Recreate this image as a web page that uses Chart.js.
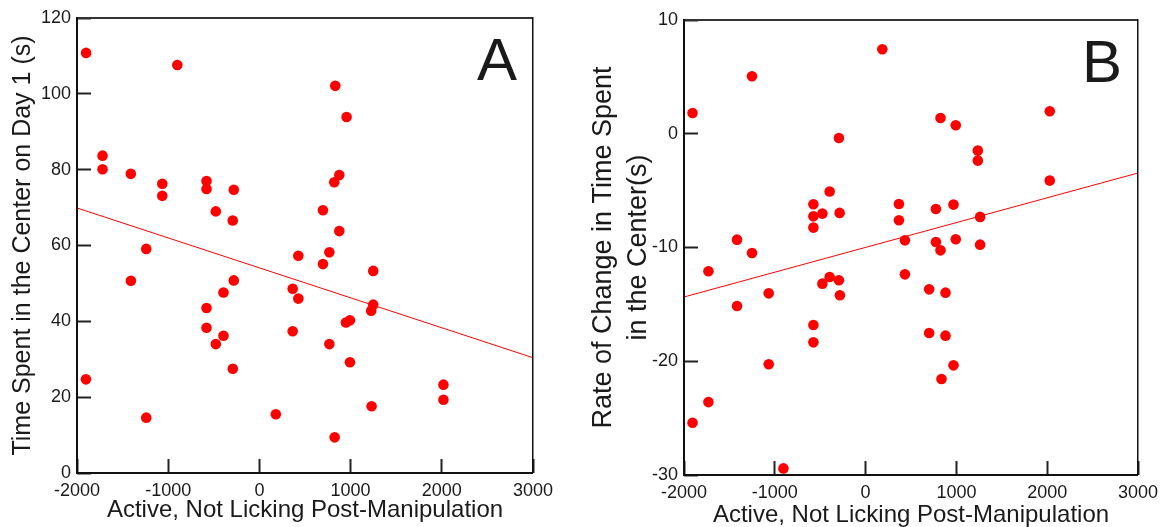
<!DOCTYPE html>
<html>
<head>
<meta charset="utf-8">
<script src="https://cdn.jsdelivr.net/npm/chart.js@4/dist/chart.umd.min.js"></script>
<style>
  body { margin: 0; background: #fff; }
  #wrapA { position: absolute; left: 0; top: 0; }
  #wrapB { position: absolute; left: 580px; top: 0; }
</style>
</head>
<body>
<div id="wrapA"><canvas id="chartA" width="560" height="527"></canvas></div>
<div id="wrapB"><canvas id="chartB" width="588" height="527"></canvas></div>
<script>
// panel A: active-not-licking score vs time in center on day 1
const activeA = [-1900, -900, -1720, -1720, -1410, -1065, -1065, -580, -580, -281,
  -478, -292, -1241, 832, 956, 876, 821, 697, 876, 767,
  427, 697, -1409, -281, -394, -580, -580, -394, -478, -292,
  -1902, -1241, 180, 365, 365, 427, 1248, 1248, 1226, 993,
  949, 767, 993, 2018, 2018, 1230, 825];
const timeDay1 = [110.8, 107.6, 83.7, 80.1, 78.9, 76.3, 73.1, 77.0, 74.9, 74.7,
  69.0, 66.6, 59.1, 102.1, 93.9, 78.6, 76.7, 69.3, 63.8, 58.2,
  57.3, 55.1, 50.7, 50.8, 47.6, 43.5, 38.3, 36.2, 34.0, 27.5,
  24.7, 14.6, 15.5, 48.6, 37.4, 46.0, 53.3, 44.4, 42.8, 40.3,
  39.7, 34.0, 29.2, 23.3, 19.3, 17.6, 9.4];

// panel B: active-not-licking score vs rate of change
const activeB = [-1906, -1251, -294, -396, -575, -575, -476, -286, -575, -1416,
  -1251, 184, 825, 993, 2028, 1236, 1236, 2028, 367, 367,
  774, 968, 1261, 433, 774, 993, 825, 1261, -1731, -1067,
  -1416, -476, -396, -294, -283, -575, -575, -1067, -1731, -1906,
  -905, 433, 700, 880, 700, 880, 968, 836];
const rateChange = [1.83, 5.06, -0.37, -5.08, -6.2, -7.26, -7.02, -6.96, -8.25, -9.31,
  -10.48, 7.43, 1.39, 0.75, 1.98, -1.48, -2.36, -4.12, -6.17, -7.6,
  -6.61, -6.23, -7.31, -9.37, -9.51, -9.28, -10.25, -9.75, -12.09, -14.03,
  -15.14, -13.18, -12.59, -12.88, -14.2, -16.81, -18.34, -20.27, -23.59, -25.4,
  -29.42, -12.36, -13.68, -13.97, -17.52, -17.75, -20.36, -21.56];

// regression lines, end points at the x-axis limits
const fitX = [-2000, 3000];
const fitA = [69.9, 30.4];
const fitB = [-14.35, -3.45];

const xTicks = [-2000, -1000, 0, 1000, 2000, 3000];
const yTicksA = [0, 20, 40, 60, 80, 100, 120];
const yTicksB = [-30, -20, -10, 0, 10];

const FONT = '"Liberation Sans", Arial, sans-serif';
const INK = '#1a1a1a';
const RED = '#ff0000';
const TICK_LEN = 14;

function pts(xs, ys) {
  return xs.map((x, i) => ({ x: x, y: ys[i] }));
}

// tick marks point into the plot: negative tickLength, labels pushed back out by padding
const inwardGrid = {
  display: true,
  drawOnChartArea: false,
  drawTicks: true,
  tickLength: -TICK_LEN,
  tickWidth: 2,
  tickColor: '#222'
};

// box around the plot and the panel letter
const framePlugin = {
  id: 'frame',
  afterDraw(chart) {
    const ctx = chart.ctx;
    const a = chart.chartArea;
    const letter = chart.canvas.dataset.letter;
    ctx.save();
    ctx.fillStyle = '#333';
    ctx.fillRect(a.left, a.top - 1, a.right - a.left, 2);
    ctx.fillStyle = '#111';
    ctx.fillRect(a.right - 1, a.top - 1, 1.5, a.bottom - a.top + 1);
    ctx.fillRect(a.left - 1, a.top - 1, 2, a.bottom - a.top + 2);
    ctx.fillRect(a.left - 1, a.bottom - 1, a.right - a.left + 1, 2);
    ctx.fillStyle = INK;
    ctx.font = '60px ' + FONT;
    ctx.textAlign = 'right';
    ctx.textBaseline = 'alphabetic';
    ctx.fillText(letter, a.right - 16, a.top + 62);
    ctx.restore();
  }
};

function makeChart(id, cfg) {
  const canvas = document.getElementById(id);
  canvas.dataset.letter = cfg.letter;
  return new Chart(canvas, {
    type: 'scatter',
    data: {
      datasets: [{
        data: pts(cfg.xs, cfg.ys),
        backgroundColor: RED,
        borderColor: RED,
        pointRadius: 5.3,
        pointBorderWidth: 0
      }, {
        type: 'line',
        data: pts(fitX, cfg.fit),
        borderColor: RED,
        borderWidth: 1,
        pointRadius: 0,
        fill: false
      }]
    },
    plugins: [framePlugin],
    options: {
      responsive: false,
      animation: false,
      events: [],
      layout: { padding: { top: cfg.top, right: cfg.right, left: 0, bottom: 0 } },
      plugins: {
        legend: { display: false },
        tooltip: { enabled: false }
      },
      scales: {
        x: {
          type: 'linear',
          min: -2000, max: 3000,
          afterFit(s) {
            s.height = cfg.xHeight;
            s.paddingLeft = 0;
            s.paddingRight = 0;
          },
          afterBuildTicks(s) { s.ticks = xTicks.map(v => ({ value: v })); },
          grid: inwardGrid,
          border: { display: false },
          ticks: {
            autoSkip: false, maxRotation: 0, padding: 7 + TICK_LEN, color: INK,
            font: { family: FONT, size: 18 },
            callback: v => String(v)
          },
          title: {
            display: true,
            text: 'Active, Not Licking Post-Manipulation',
            color: INK,
            font: { family: FONT, size: 24, lineHeight: 1 },
            padding: { top: 0, bottom: cfg.xTitlePad }
          }
        },
        y: {
          type: 'linear',
          min: cfg.yMin, max: cfg.yMax,
          afterFit(s) {
            s.width = cfg.yWidth;
            s.paddingTop = 0;
            s.paddingBottom = 0;
          },
          afterBuildTicks(s) { s.ticks = cfg.yTicks.map(v => ({ value: v })); },
          grid: inwardGrid,
          border: { display: false },
          ticks: {
            padding: 6 + TICK_LEN, color: INK,
            font: { family: FONT, size: 18 },
            callback: v => String(v)
          },
          title: {
            display: true,
            text: cfg.yTitle,
            color: INK,
            font: { family: FONT, size: cfg.yTitleSize, lineHeight: cfg.yTitleLH },
            padding: { top: cfg.yTitlePad, bottom: 0 }
          }
        }
      }
    }
  });
}

makeChart('chartA', {
  xs: activeA, ys: timeDay1, fit: fitA, letter: 'A',
  yMin: 0, yMax: 120, yTicks: yTicksA,
  top: 18, right: 27, yWidth: 77, xHeight: 54,
  xTitlePad: 4.5,
  yTitle: 'Time Spent in the Center on Day 1 (s)', yTitleSize: 25, yTitleLH: 1, yTitlePad: 11
});

makeChart('chartB', {
  xs: activeB, ys: rateChange, fit: fitB, letter: 'B',
  yMin: -30, yMax: 10, yTicks: yTicksB,
  top: 20, right: 30, yWidth: 104, xHeight: 52,
  xTitlePad: 0,
  yTitle: ['Rate of Change in Time Spent', 'in the Center(s)'], yTitleSize: 27, yTitleLH: '35px', yTitlePad: 6
});
</script>
</body>
</html>
